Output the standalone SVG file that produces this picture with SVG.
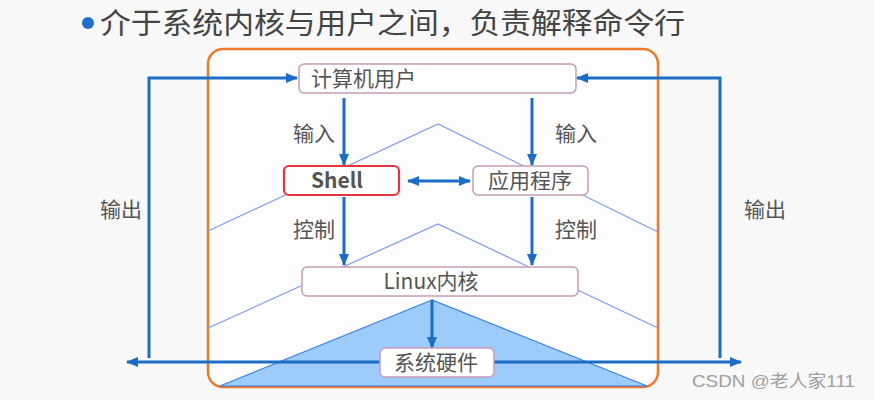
<svg xmlns="http://www.w3.org/2000/svg" width="874" height="400" viewBox="0 0 874 400">
<defs>
<style>
.t{font-family:"Noto Sans CJK SC","Liberation Sans",sans-serif;fill:#555;font-size:21px}
.c{text-anchor:middle}
.box{fill:#fff;stroke:#C79AB8;stroke-width:1.5}
.arr{stroke:#1B6DC6;stroke-width:3;fill:none}
.chev{stroke:#7E9CEB;stroke-width:1.2;fill:none}
</style>
<marker id="ah" markerWidth="12" markerHeight="10" refX="11" refY="5" orient="auto-start-reverse" markerUnits="userSpaceOnUse">
<path d="M0,0 L12,5 L0,10 Z" fill="#1B6DC6"/>
</marker>
</defs>
<rect x="0" y="0" width="874" height="400" fill="#F8F8F8"/>
<g id="title">
<circle cx="88" cy="23" r="6" fill="#1F6FD0"/>
<text x="100" y="34" class="t" style="font-size:29px;fill:#444" textLength="585" lengthAdjust="spacingAndGlyphs">介于系统内核与用户之间，负责解释命令行</text>
</g>
<g id="frame">
<rect x="208" y="49" width="450" height="338" rx="15" fill="#FDFDFD" stroke="#EC7A2C" stroke-width="2.5"/>
</g>
<g id="layers">
<polyline class="chev" points="208,231 438,124 658,232"/>
<polyline class="chev" points="208,328 438,224 658,328"/>
<polygon points="432,300 220,386 647,386" fill="#9DCBFA" stroke="#3F7FE2" stroke-width="1.2"/>
</g>
<g id="connectors">
<path class="arr" d="M149 358 V78 H297" marker-end="url(#ah)"/>
<path class="arr" d="M720 358 V78 H577" marker-end="url(#ah)"/>
<line class="arr" x1="127" y1="362" x2="741" y2="362" marker-start="url(#ah)" marker-end="url(#ah)"/>
<line class="arr" x1="344" y1="98" x2="344" y2="165" marker-end="url(#ah)"/>
<line class="arr" x1="532" y1="98" x2="532" y2="165" marker-end="url(#ah)"/>
<line class="arr" x1="344" y1="197" x2="344" y2="265" marker-end="url(#ah)"/>
<line class="arr" x1="532" y1="197" x2="532" y2="265" marker-end="url(#ah)"/>
<line class="arr" x1="432" y1="300" x2="432" y2="348" marker-end="url(#ah)"/>
<line class="arr" x1="408" y1="181" x2="470" y2="181" marker-start="url(#ah)" marker-end="url(#ah)"/>
</g>
<g id="user">
<rect class="box" x="299" y="64" width="277" height="29" rx="5"/>
<text class="t" x="311" y="86">计算机用户</text>
</g>
<g id="shell">
<rect x="284" y="166" width="115" height="29" rx="5" fill="#fff" stroke="#E5333F" stroke-width="2.2"/>
<text class="t c" x="337" y="188" style="font-weight:bold">Shell</text>
</g>
<g id="app">
<rect class="box" x="473" y="166" width="115" height="29" rx="5"/>
<text class="t c" x="530" y="188">应用程序</text>
</g>
<g id="kernel">
<rect class="box" x="302" y="267" width="276" height="29" rx="5"/>
<text class="t c" x="431" y="289">Linux内核</text>
</g>
<g id="hardware">
<rect class="box" x="380" y="348" width="114" height="29" rx="5"/>
<text class="t c" x="436" y="370">系统硬件</text>
</g>
<g id="labels">
<text class="t c" x="314" y="141">输入</text>
<text class="t c" x="576" y="141">输入</text>
<text class="t c" x="314" y="237">控制</text>
<text class="t c" x="576" y="237">控制</text>
<text class="t c" x="121" y="217">输出</text>
<text class="t c" x="765" y="217">输出</text>
</g>
<text x="692" y="387" textLength="163" lengthAdjust="spacingAndGlyphs" style="font-family:'Liberation Sans','Noto Sans CJK SC',sans-serif;font-size:17px;fill:#A0A0A0">CSDN @老人家111</text>
</svg>
